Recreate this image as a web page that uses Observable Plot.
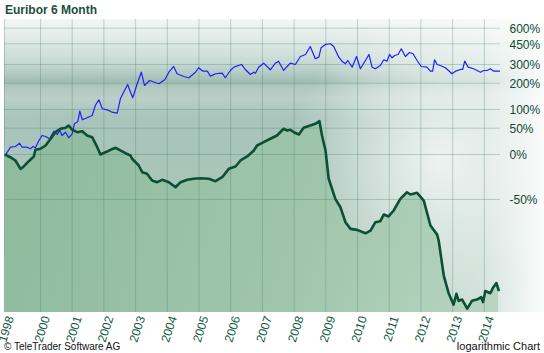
<!DOCTYPE html>
<html><head><meta charset="utf-8">
<script src="https://cdn.jsdelivr.net/npm/d3@7"></script>
<script src="https://cdn.jsdelivr.net/npm/@observablehq/plot@0.6"></script>
<style>
body{margin:0;background:#fff;}
#wrap{position:relative;width:544px;height:353px;overflow:hidden;font-family:Arial,"Liberation Sans",sans-serif;}
#bg{position:absolute;left:4px;top:19px;width:540px;height:293px;
 background:
  radial-gradient(ellipse 150px 150px at 435px 140px, rgba(255,255,255,0.7), rgba(255,255,255,0) 100%),
  linear-gradient(to right, rgba(255,255,255,0) 0%, rgba(255,255,255,0) 60%, rgba(255,255,255,0.4) 88%, rgba(255,255,255,0.95) 100%),
  linear-gradient(to bottom, #f3f7f6 0%, #dde8e4 8%, #c6d9d2 15%, #b0c9c0 19%, #a2beb4 21%, #b2cac1 24%, #b9cfc7 27%, #a9c4ba 34%, #aac6bb 65%, #b3cdc2 100%);}
#chart{position:absolute;left:0;top:0;}
#title{position:absolute;left:5px;top:3px;font-weight:bold;font-size:12px;color:#1b4f3e;}
#footL{position:absolute;left:4px;top:341px;font-size:10px;color:#111;}
#footR{position:absolute;right:4px;top:340px;font-size:11px;color:#111;}
</style></head>
<body><div id="wrap"><div id="bg"></div><div id="chart"></div>
<div id="title">Euribor 6 Month</div>
<div id="footL">© TeleTrader Software AG</div>
<div id="footR">logarithmic Chart</div></div>
<script>
const euriborYear = [1998.90,1999.05,1999.21,1999.37,1999.45,1999.63,1999.79,1999.84,2000.00,2000.16,
2000.32,2000.47,2000.63,2000.79,2000.89,2001.00,2001.16,2001.32,2001.47,2001.63,
2001.79,2001.89,2002.05,2002.21,2002.37,2002.52,2002.68,2002.84,2002.89,2003.10,
2003.21,2003.36,2003.52,2003.68,2003.84,2004.05,2004.26,2004.42,2004.63,2004.83,
2005.05,2005.31,2005.52,2005.73,2005.94,2006.15,2006.31,2006.52,2006.73,2006.83,
2007.04,2007.25,2007.46,2007.67,2007.78,2007.88,2007.99,2008.15,2008.30,2008.51,
2008.67,2008.80,2008.88,2008.99,2009.09,2009.30,2009.46,2009.62,2009.78,2009.99,
2010.25,2010.41,2010.56,2010.72,2010.83,2010.98,2011.14,2011.35,2011.56,2011.67,
2011.88,2012.09,2012.30,2012.51,2012.56,2012.72,2012.88,2013.03,2013.12,2013.19,
2013.30,2013.46,2013.61,2013.77,2013.90,2013.96,2014.03,2014.19,2014.28,2014.38,
2014.45];
const euriborPct = [-0.5,-4.1,-8.8,-19.8,-17.8,-9.8,-3.0,7.5,9.2,14.9,
27.4,41.0,48.6,50.9,56.3,46.3,41.0,43.2,34.0,30.6,
11.9,0,3.6,7.5,10.9,6.4,2.0,-1.5,-6.4,-15.6,
-23.9,-25.7,-33.0,-34.7,-32.3,-34.7,-39.6,-34.7,-32.3,-31.2,
-30.6,-31.2,-33.7,-29.5,-19.8,-16.9,-8.8,-3.0,6.4,14.9,
20.9,27.4,34.0,48.6,44.7,46.3,41.0,36.1,50.9,56.3,
60.5,67.0,34.0,6.4,-30.9,-49.5,-55.6,-64.8,-68.2,-68.7,
-70.3,-69.0,-64.8,-64.2,-60.3,-61.5,-57.8,-49.5,-44.1,-46.0,
-44.6,-50.8,-66.5,-70.9,-73.4,-84.5,-88.3,-90.1,-88.3,-89.5,
-89.3,-90.7,-89.5,-89.3,-88.9,-89.7,-87.8,-88.2,-87.1,-86.2,
-87.6];
const compareYear = [1998.90,1999.05,1999.21,1999.34,1999.42,1999.58,1999.68,1999.77,1999.84,1999.95,
2000.05,2000.16,2000.29,2000.42,2000.53,2000.61,2000.68,2000.79,2000.89,2001.00,
2001.07,2001.18,2001.24,2001.32,2001.47,2001.63,2001.73,2001.84,2001.95,2002.10,
2002.26,2002.42,2002.52,2002.65,2002.75,2002.84,2002.91,2003.05,2003.18,2003.28,
2003.44,2003.73,2003.92,2004.05,2004.20,2004.31,2004.52,2004.68,2004.89,2004.99,
2005.12,2005.26,2005.36,2005.52,2005.73,2005.83,2005.99,2006.10,2006.34,2006.47,
2006.62,2006.73,2006.78,2006.88,2007.04,2007.25,2007.41,2007.51,2007.67,2007.78,
2007.88,2008.04,2008.20,2008.36,2008.51,2008.67,2008.78,2008.85,2008.99,2009.15,
2009.25,2009.41,2009.51,2009.62,2009.69,2009.83,2009.97,2010.09,2010.25,2010.36,
2010.46,2010.56,2010.72,2010.83,2010.93,2011.01,2011.09,2011.17,2011.28,2011.38,
2011.51,2011.64,2011.75,2011.88,2012.01,2012.19,2012.30,2012.37,2012.43,2012.51,
2012.61,2012.77,2012.87,2012.98,2013.09,2013.25,2013.32,2013.38,2013.49,2013.66,
2013.77,2013.88,2013.98,2014.09,2014.19,2014.30,2014.40,2014.48];
const comparePct = [-0.5,11.9,13.1,19.0,11.9,11.9,9.2,13.1,10.9,24.1,
34.0,32.0,27.4,43.2,36.1,44.7,34.0,41.0,29.3,37.6,
60.5,66.3,94.9,70.7,76.0,82.4,112.8,132.3,102.2,99.1,
91.9,89.0,135.9,168.1,194.1,161.1,139.6,197.2,255.4,189.6,
212.7,197.2,216.1,255.4,288.0,246.8,232.6,226.0,255.4,280.4,
260.9,260.9,234.2,246.8,250.0,226.0,264.8,283.9,300.2,268.8,
243.0,255.4,250.0,283.9,308.3,268.8,308.3,321.1,264.8,288.0,
308.3,300.2,352.7,366.8,428.1,337.0,347.8,417.6,444.6,450.5,
428.1,347.8,321.1,304.5,325.6,283.9,352.7,274.5,325.6,366.8,
283.9,274.5,294.0,330.3,321.1,366.8,343.7,359.7,366.8,409.7,
352.7,381.4,371.9,325.6,288.0,283.9,260.9,260.9,330.3,300.2,
294.0,280.4,264.8,246.8,260.9,270.5,270.5,321.1,283.9,274.5,
264.8,255.4,264.8,264.8,274.5,260.9,260.9,260.9];
const yTickPct = [600,450,300,200,100,50,0,-50];
const xTickLabels = ["1998","2000","2001","2002","2003","2004","2005","2006","2007","2008","2009","2010","2011","2012","2013","2014"];
const xDomain = [1998.865, 2014.51];
const yDomainPct = [-91.23, 700];

const toRatio = p => 1 + p / 100;
const eur = euriborYear.map((t, i) => ({t, r: toRatio(euriborPct[i])}));
const cmp = compareYear.map((t, i) => ({t, r: toRatio(comparePct[i])}));
const yTicks = yTickPct.map(p => ({r: toRatio(p), label: p + "%"}));
const xTicks = xTickLabels.map((s, i) => i === 0 ? xDomain[0] : +s);
const yMin = toRatio(yDomainPct[0]);

const svg = Plot.plot({
  width: 544, height: 353,
  marginTop: 19, marginBottom: 41, marginLeft: 4, marginRight: 44,
  style: {background: "transparent", fontFamily: "Arial, 'Liberation Sans', sans-serif", overflow: "visible"},
  x: {type: "linear", domain: xDomain},
  y: {type: "log", domain: [yMin, toRatio(yDomainPct[1])], axis: null},
  marks: [
    Plot.areaY(eur, {x: "t", y1: yMin, y2: "r", fill: "url(#areaFill)"}),
    Plot.gridX(xTicks, {stroke: "#3f7d66", strokeOpacity: 0.3}),
    Plot.gridY(yTicks, {y: "r", stroke: "#3f7d66", strokeOpacity: 0.3}),
    Plot.line(cmp, {x: "t", y: "r", stroke: "#1f1fff", strokeWidth: 1.2}),
    Plot.line(eur, {x: "t", y: "r", stroke: "#0b5035", strokeWidth: 2.6}),
    Plot.text(yTicks, {y: "r", text: "label", frameAnchor: "right", textAnchor: "start", dx: 9, dy: 1, fontSize: 12, fill: "#0e4a36"}),
    Plot.axisX(xTicks, {anchor: "bottom", label: null, tickSize: 0, tickPadding: 4, tickRotate: -72, dx: 6, fontSize: 12, color: "#0e5a3a",
      tickFormat: d => xTickLabels[xTicks.indexOf(d)]})
  ]
});
d3.select(svg).insert("defs", ":first-child").html(
  '<linearGradient id="areaFill" gradientUnits="userSpaceOnUse" x1="4" y1="150" x2="500" y2="312">' +
  '<stop offset="0" stop-color="#8fba9c"/><stop offset="0.6" stop-color="#9fc6ab"/><stop offset="1" stop-color="#b8d5c2"/></linearGradient>');
document.getElementById("chart").appendChild(svg);
</script>
</body></html>
